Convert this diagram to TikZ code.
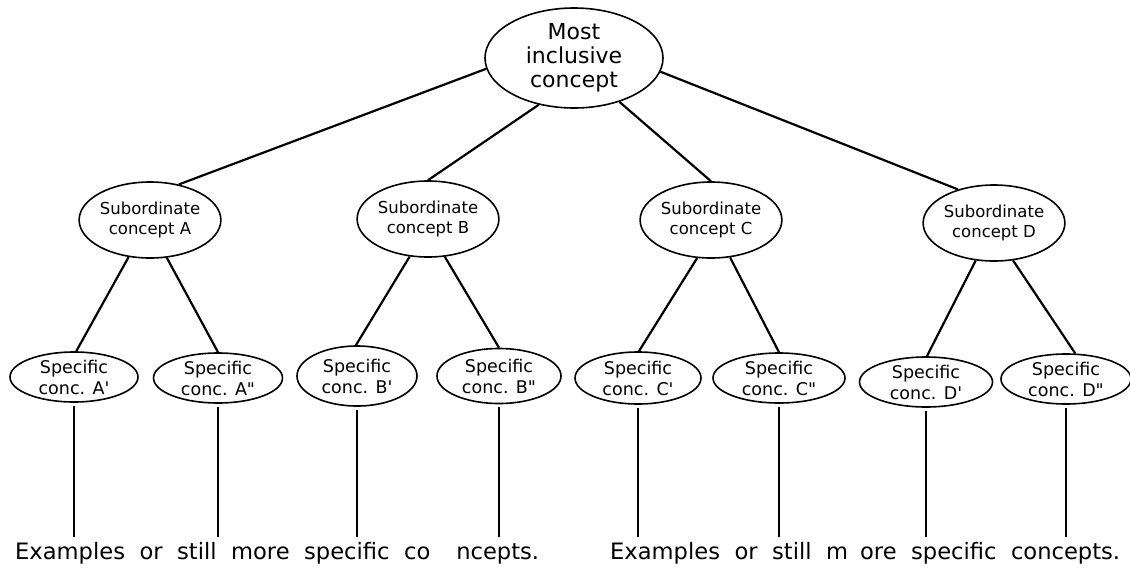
\documentclass[tikz,border=0pt]{standalone}
\usepackage{fontspec}
\setmainfont[Ligatures=TeXOff]{DejaVu Sans}
\usetikzlibrary{shapes.geometric}
\newcommand\widespaces{\spaceskip=14.5pt plus 1pt minus 1pt\relax}
\begin{document}
\begin{tikzpicture}[x=1pt,y=-1pt,
  concept/.style={draw, ellipse, line width=1.6pt, inner sep=0pt, align=center},
  topc/.style={concept, font=\fontsize{22}{24}\selectfont},
  subc/.style={concept, font=\fontsize{16.5}{20}\selectfont, minimum width=140pt, minimum height=76pt},
  specc/.style={concept, font=\fontsize{17.5}{21}\selectfont},
  link/.style={line width=2.2pt},
  stem/.style={line width=1.3pt},
  foot/.style={font=\fontsize{22.6}{24}\selectfont, anchor=base west, inner sep=0pt}]
\useasboundingbox (0,0) rectangle (1130,576);
% top
\node[topc, minimum width=178pt, minimum height=100pt] (T) at (574,58) {Most\\inclusive\\concept};
% subordinate
\node[subc] (A) at (150,220) {Subordinate\\concept A};
\node[subc] (B) at (428,219) {Subordinate\\concept B};
\node[subc] (C) at (711,220) {Subordinate\\concept C};
\node[subc] (D) at (994,223) {Subordinate\\concept D};
% specific
\node[specc, minimum width=128pt, minimum height=50pt] (A1) at (74,377) {Specific\\conc. A'};
\node[specc, minimum width=129pt, minimum height=50pt] (A2) at (218,378) {Specific\\conc. A"};
\node[specc, minimum width=120pt, minimum height=60pt] (B1) at (357,376) {Specific\\conc. B'};
\node[specc, minimum width=124pt, minimum height=55pt] (B2) at (499,376) {Specific\\conc. B"};
\node[specc, minimum width=126pt, minimum height=52pt] (C1) at (638,378) {Specific\\conc. C'};
\node[specc, minimum width=132pt, minimum height=50pt] (C2) at (779,378) {Specific\\conc. C"};
\node[specc, minimum width=133pt, minimum height=50pt] (D1) at (926,382) {Specific\\conc. D'};
\node[specc, minimum width=130pt, minimum height=50pt] (D2) at (1066,379) {Specific\\conc. D"};
% links
\draw[link] (T.187) -- (A.51);
\draw[link] (T.233) -- (B.90);
\draw[link] (T.316) -- (C.90);
\draw[link] (T.351) -- (D.137);
\draw[link] (A.240) -- (A1.85);
\draw[link] (A.294) -- (A2.90);
\draw[link] (B.244) -- (B1.92);
\draw[link] (B.294) -- (B2.90);
\draw[link] (C.250) -- (C1.88);
\draw[link] (C.297) -- (C2.90);
\draw[link] (D.244) -- (D1.88);
\draw[link] (D.297) -- (D2.70);
% stems
\coordinate (base) at (0,537);
\foreach \n in {A1,A2,B1,B2,C1,C2,D1,D2}{
  \draw[stem] ([yshift=-3pt]\n.south) -- (\n.south |- base);
}
% footers
\node[foot] (F1) at (15,559) {\widespaces Examples or still more specific co\hspace{26pt}ncepts.};
\node[foot] (F2) at (610,559) {\widespaces Examples or still m\hspace{12pt}ore specific concepts.};
\end{tikzpicture}
\end{document}
